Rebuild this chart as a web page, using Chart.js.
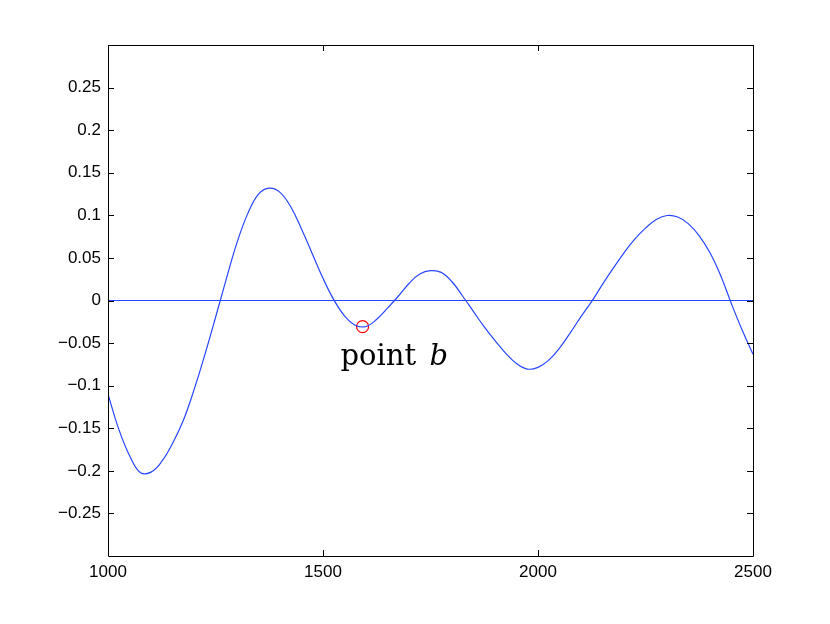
<!DOCTYPE html>
<html>
<head>
<meta charset="utf-8">
<script src="https://cdn.jsdelivr.net/npm/chart.js@4.4.0/dist/chart.umd.min.js"></script>
<style>
  html, body { margin: 0; padding: 0; background: #ffffff; }
  #wrap { width: 830px; height: 624px; position: relative; }
</style>
</head>
<body>
<div id="wrap"><canvas id="c" width="830" height="624"></canvas></div>
<script>
// ---- data (every 25 units) ----
const curveX = [1000,1025,1050,1075,1100,1125,1150,1175,1200,1225,1250,1275,1300,1325,1350,1375,1400,1425,1450,1475,1500,1525,1550,1575,1600,1625,1650,1675,1700,1725,1750,1775,1800,1825,1850,1875,1900,1925,1950,1975,2000,2025,2050,2075,2100,2125,2150,2175,2200,2225,2250,2275,2300,2325,2350,2375,2400,2425,2450,2475,2500];
const curveY = [-0.110,-0.151,-0.182,-0.202,-0.2015,-0.189,-0.168,-0.141,-0.105,-0.064,-0.020,0.025,0.068,0.102,0.125,0.132,0.127,0.110,0.084,0.055,0.026,0.001,-0.018,-0.029,-0.0305,-0.022,-0.009,0.005,0.020,0.031,0.035,0.033,0.022,0.005,-0.013,-0.031,-0.047,-0.062,-0.074,-0.0805,-0.0785,-0.070,-0.056,-0.038,-0.019,-0.001,0.019,0.038,0.056,0.072,0.085,0.095,0.0998,0.098,0.090,0.076,0.056,0.029,-0.004,-0.035,-0.063];
const zeroLineX = [1000, 2500];
const zeroLineY = [0, 0];
const pointBX = [1592];
const pointBY = [-0.0307];
const pointBLabel = ["point", "b"];
const xTickValues = [1000, 1500, 2000, 2500];
const yTickValues = [-0.25,-0.2,-0.15,-0.1,-0.05,0,0.05,0.1,0.15,0.2,0.25];
const xRange = [1000, 2500];
const yRange = [-0.3, 0.3];

// ---- helpers ----
const zip = (xs, ys) => xs.map((x, i) => ({x: x, y: ys[i]}));
const fmt = v => {
  const s = String(Number(v.toFixed(2)));
  return s.replace('-', '\u2212');
};
const BLUE = 'rgb(40,70,255)';
const tickFont = {family: "'Liberation Sans', Arial, sans-serif", size: 17};

// frame + inward ticks (MATLAB style), and text annotation
const framePlugin = {
  id: 'frame',
  afterDraw(chart) {
    const ctx = chart.ctx;
    const a = chart.chartArea;
    const xs = chart.scales.x, ys = chart.scales.y;
    ctx.save();
    ctx.strokeStyle = '#000';
    ctx.lineWidth = 1;
    ctx.beginPath();
    ctx.rect(Math.round(a.left) + 0.5, Math.round(a.top) + 0.5,
             Math.round(a.right - a.left), Math.round(a.bottom - a.top));
    ctx.stroke();
    const L = 6;
    ctx.beginPath();
    xTickValues.forEach(v => {
      const px = Math.round(xs.getPixelForValue(v)) + 0.5;
      ctx.moveTo(px, a.bottom); ctx.lineTo(px, a.bottom - L);
      ctx.moveTo(px, a.top); ctx.lineTo(px, a.top + L);
    });
    yTickValues.forEach(v => {
      const py = Math.round(ys.getPixelForValue(v)) + 0.5;
      ctx.moveTo(a.left, py); ctx.lineTo(a.left + L, py);
      ctx.moveTo(a.right, py); ctx.lineTo(a.right - L, py);
    });
    ctx.stroke();

    // "point b" label below the marked point
    const lx = xs.getPixelForValue(pointBX[0]) - 22;
    const ly = ys.getPixelForValue(pointBY[0]) + 38;
    ctx.fillStyle = '#000';
    ctx.textBaseline = 'alphabetic';
    ctx.textAlign = 'left';
    ctx.font = "29px 'DejaVu Serif', 'Liberation Serif', serif";
    ctx.fillText(pointBLabel[0], lx, ly);
    const w = ctx.measureText(pointBLabel[0] + ' ').width;
    ctx.font = "italic 29px 'DejaVu Serif', 'Liberation Serif', serif";
    ctx.fillText(pointBLabel[1], lx + w + 4, ly);
    ctx.restore();
  }
};

new Chart(document.getElementById('c'), {
  type: 'scatter',
  data: {
    datasets: [
      {
        data: zip(zeroLineX, zeroLineY),
        showLine: true, borderColor: BLUE, borderWidth: 1.2,
        pointRadius: 0, fill: false
      },
      {
        data: zip(curveX, curveY),
        showLine: true, borderColor: BLUE, borderWidth: 1.2,
        pointRadius: 0, fill: false, tension: 0.4
      },
      {
        data: zip(pointBX, pointBY),
        showLine: false, pointStyle: 'circle', pointRadius: 6,
        borderColor: 'rgb(255,0,0)', backgroundColor: 'rgba(0,0,0,0)', borderWidth: 1.2
      }
    ]
  },
  options: {
    responsive: false,
    animation: false,
    devicePixelRatio: 1,
    layout: {padding: {top: 45, right: 77, left: 0, bottom: 0}},
    plugins: {legend: {display: false}, tooltip: {enabled: false}},
    scales: {
      x: {
        type: 'linear', min: xRange[0], max: xRange[1],
        afterBuildTicks: s => { s.ticks = xTickValues.map(v => ({value: v})); },
        afterFit: s => { s.height = 68; },
        grid: {display: false, drawTicks: false},
        border: {display: false},
        ticks: {font: tickFont, color: '#000', padding: 6, maxRotation: 0,
                callback: v => fmt(v)}
      },
      y: {
        type: 'linear', min: yRange[0], max: yRange[1],
        afterBuildTicks: s => { s.ticks = yTickValues.map(v => ({value: v})); },
        afterFit: s => { s.width = 108; },
        grid: {display: false, drawTicks: false},
        border: {display: false},
        ticks: {font: tickFont, color: '#000', padding: 7,
                callback: v => fmt(v)}
      }
    }
  },
  plugins: [framePlugin]
});
</script>
</body>
</html>
